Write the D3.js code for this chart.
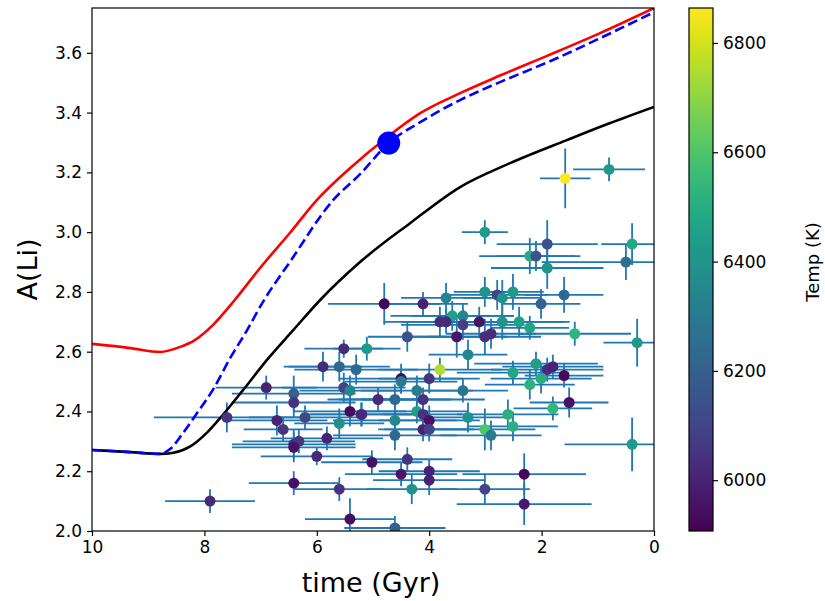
<!DOCTYPE html>
<html>
<head>
<meta charset="utf-8">
<script src="https://cdn.jsdelivr.net/npm/d3@7"></script>
<style>
  body { margin: 0; background: #fff; }
  text { font-family: "DejaVu Sans", sans-serif; }
</style>
</head>
<body>
<svg id="chart"></svg>
<script>
// stars: age (Gyr), A(Li), age err, A(Li) err, Teff
const starAge = [1.58,0.80,3.01,1.90,0.39,2.21,2.10,1.90,0.50,4.80,4.11,3.70,3.01,2.79,2.70,2.51,1.60,2.01,3.59,3.40,
  3.81,3.70,3.40,3.11,2.70,2.40,2.21,3.51,3.01,2.90,1.41,0.30,4.39,5.11,5.52,3.31,3.81,2.10,1.90,1.80,
  1.60,2.51,2.01,2.21,4.50,4.50,4.00,4.22,3.40,4.91,4.61,4.11,5.20,4.22,4.11,4.00,4.11,4.00,4.61,4.61,
  3.31,3.01,2.90,2.60,2.51,1.80,1.51,0.39,5.02,4.39,4.50,4.00,4.00,4.31,3.01,2.31,2.31,4.61,5.60,5.82,
  5.60,5.41,5.41,5.21,5.89,5.60,5.30,5.52,5.41,6.90,6.41,6.41,7.60,6.71,6.60,6.21,6.41,6.32,6.41,6.00,
  6.41,7.90]
const starALi = [3.18,3.21,3.00,2.96,2.96,2.92,2.92,2.88,2.90,2.76,2.76,2.78,2.80,2.79,2.78,2.80,2.79,2.76,2.72,2.72,
  2.70,2.70,2.69,2.70,2.70,2.70,2.68,2.65,2.65,2.66,2.66,2.63,2.65,2.61,2.61,2.59,2.54,2.56,2.54,2.55,
  2.52,2.53,2.51,2.49,2.51,2.50,2.51,2.47,2.47,2.44,2.44,2.44,2.39,2.40,2.39,2.37,2.34,2.34,2.37,2.32,
  2.38,2.34,2.32,2.39,2.35,2.41,2.43,2.29,2.23,2.24,2.19,2.20,2.17,2.14,2.14,2.19,2.09,2.01,2.36,2.31,
  2.14,2.04,2.40,2.39,2.55,2.55,2.54,2.48,2.47,2.48,2.46,2.43,2.38,2.37,2.34,2.38,2.29,2.30,2.28,2.25,
  2.16,2.10]
const starAgeErr = [0.45,0.64,0.41,0.9,0.55,0.9,0.7,1.0,1.5,1.0,0.8,0.8,0.55,0.9,0.7,0.55,0.7,0.7,1.1,0.9,
  1.0,0.8,1.1,0.9,1.1,0.9,0.7,0.9,1.0,0.8,1.0,0.6,0.7,0.6,0.7,0.7,1.1,1.1,1.0,0.9,
  0.7,1.0,0.9,0.8,1.1,1.0,0.9,1.0,0.8,0.9,1.0,1.1,1.0,0.9,0.7,0.9,0.8,0.8,1.1,1.1,
  0.7,0.9,0.9,0.9,0.8,0.7,0.7,1.2,0.9,0.8,1.0,0.9,1.0,0.8,0.8,1.1,1.2,0.9,0.8,1.0,
  0.8,0.8,1.0,0.9,0.7,0.9,1.1,1.1,0.9,0.9,1.1,1.1,1.3,0.9,0.7,1.0,1.1,1.0,1.1,1.0,
  0.8,0.8]
const starALiErr = [0.10,0.04,0.04,0.08,0.07,0.06,0.05,0.07,0.06,0.07,0.04,0.05,0.05,0.05,0.06,0.06,0.06,0.05,0.05,0.04,
  0.05,0.04,0.05,0.05,0.06,0.05,0.04,0.07,0.06,0.05,0.04,0.08,0.05,0.04,0.03,0.05,0.04,0.04,0.04,0.04,
  0.04,0.04,0.05,0.05,0.05,0.04,0.05,0.05,0.04,0.04,0.05,0.04,0.04,0.04,0.03,0.05,0.04,0.04,0.05,0.05,
  0.05,0.07,0.05,0.05,0.05,0.04,0.05,0.09,0.04,0.04,0.04,0.04,0.05,0.05,0.05,0.07,0.07,0.04,0.05,0.04,
  0.04,0.07,0.05,0.04,0.05,0.05,0.05,0.05,0.05,0.04,0.06,0.05,0.05,0.05,0.04,0.04,0.05,0.04,0.05,0.03,
  0.04,0.04]
const starTemp = [6860,6420,6430,6150,6480,6500,6150,6400,6250,5920,6000,6330,6400,6100,6400,6420,6230,6200,6450,6350,
  6020,6020,6080,5950,6400,6450,6470,5960,6030,6030,6530,6420,6150,6430,6020,6350,6750,6440,6030,6000,
  5930,6470,6500,6520,5930,6300,6050,6300,6280,6020,6230,6050,6020,6450,6050,5950,6000,6100,6350,6230,
  6400,6600,6300,6520,6520,6540,5950,6420,5950,6050,5960,6000,6000,6400,6100,5920,5970,6200,6380,6000,
  6050,5940,5930,6020,6020,6220,6230,6100,6350,6000,6200,6050,6050,6000,6050,6120,6030,6050,5950,6020,
  5950,6020]

// model tracks
const redAge = [10,9.32,8.79,8.43,8.17,7.85,7.46,7.01,6.48,6.00,5.41,4.72,4.16,3.45,2.74,1.85,0.96,0]
const redALi = [2.626,2.612,2.599,2.616,2.639,2.689,2.773,2.880,2.997,3.107,3.214,3.322,3.398,3.465,3.524,3.594,3.666,3.750]
const blueAge = [10,9.32,8.79,8.61,8.38,8.13,7.85,7.54,7.24,6.96,6.48,5.71,5.23,4.72,4.16,3.45,2.74,1.85,0.96,0]
const blueALi = [2.271,2.264,2.258,2.274,2.328,2.395,2.472,2.579,2.672,2.766,2.900,3.107,3.194,3.298,3.368,3.442,3.502,3.572,3.649,3.736]
const blackAge = [10,9.32,8.79,8.55,8.25,7.95,7.72,7.31,6.89,6.42,5.94,5.23,4.34,3.45,2.56,1.55,0.78,0]
const blackALi = [2.271,2.264,2.258,2.262,2.283,2.330,2.378,2.472,2.572,2.672,2.773,2.900,3.030,3.151,3.231,3.308,3.365,3.419]
const sunAge = [4.72]
const sunALi = [3.298]

const xTicks = [10,8,6,4,2,0]
const yTicks = [2.0,2.2,2.4,2.6,2.8,3.0,3.2,3.4,3.6]
const cTicks = [6000,6200,6400,6600,6800]
const tempRange = [5907,6864]

const w = 825, h = 601
const pLeft = 92, pRight = 654, pTop = 8, pBottom = 531

const svg = d3.select('#chart')
  .attr('width', w)
  .attr('height', h)

const xScale = d3.scaleLinear().domain([10, 0]).range([pLeft, pRight])
const yScale = d3.scaleLinear().domain([2.0, 3.75]).range([pBottom, pTop])
const color = d3.scaleSequential(d3.interpolateViridis).domain(tempRange)

const defs = svg.append('defs')
defs.append('clipPath').attr('id', 'plotclip')
  .append('rect')
  .attr('x', pLeft).attr('y', pTop)
  .attr('width', pRight - pLeft).attr('height', pBottom - pTop)

const stars = starAge.map((d, i) => ({
  t: d, a: starALi[i], te: starAgeErr[i], ae: starALiErr[i], temp: starTemp[i]
}))

const plot = svg.append('g').attr('clip-path', 'url(#plotclip)')

// error bars
const eb = plot.append('g').attr('stroke', '#1f77b4').attr('stroke-width', 1.8)
eb.selectAll('line.xerr')
  .data(stars)
  .enter()
  .append('line')
  .attr('class', 'xerr')
  .attr('x1', d => xScale(d.t + d.te))
  .attr('x2', d => xScale(d.t - d.te))
  .attr('y1', d => yScale(d.a))
  .attr('y2', d => yScale(d.a))
eb.selectAll('line.yerr')
  .data(stars)
  .enter()
  .append('line')
  .attr('class', 'yerr')
  .attr('x1', d => xScale(d.t))
  .attr('x2', d => xScale(d.t))
  .attr('y1', d => yScale(d.a - d.ae))
  .attr('y2', d => yScale(d.a + d.ae))

// tracks
const line = d3.line().x(d => xScale(d[0])).y(d => yScale(d[1])).curve(d3.curveMonotoneX)
plot.append('path')
  .datum(redAge.map((d, i) => [d, redALi[i]]))
  .attr('d', line)
  .attr('fill', 'none').attr('stroke', 'red').attr('stroke-width', 2.6)
plot.append('path')
  .datum(blackAge.map((d, i) => [d, blackALi[i]]))
  .attr('d', line)
  .attr('fill', 'none').attr('stroke', 'black').attr('stroke-width', 2.6)
plot.append('path')
  .datum(blueAge.map((d, i) => [d, blueALi[i]]))
  .attr('d', line)
  .attr('fill', 'none').attr('stroke', 'blue').attr('stroke-width', 2.6)
  .attr('stroke-dasharray', '10,4.5')

// stars
plot.selectAll('circle.star')
  .data(stars)
  .enter()
  .append('circle')
  .attr('class', 'star')
  .attr('cx', d => xScale(d.t))
  .attr('cy', d => yScale(d.a))
  .attr('r', 5.5)
  .attr('fill', d => color(d.temp))

// sun marker
plot.selectAll('circle.sun')
  .data(sunAge)
  .enter()
  .append('circle')
  .attr('class', 'sun')
  .attr('cx', d => xScale(d))
  .attr('cy', (d, i) => yScale(sunALi[i]))
  .attr('r', 11.5)
  .attr('fill', 'blue')

// axes
const xAxis = d3.axisBottom(xScale).tickValues(xTicks).tickFormat(d3.format('d')).tickSize(5).tickPadding(5)
const yAxis = d3.axisLeft(yScale).tickValues(yTicks).tickFormat(d3.format('.1f')).tickSize(5).tickPadding(5)
const gx = svg.append('g').attr('transform', `translate(0, ${pBottom})`).call(xAxis)
const gy = svg.append('g').attr('transform', `translate(${pLeft}, 0)`).call(yAxis)
;[gx, gy].forEach(g => {
  g.select('.domain').remove()
  g.selectAll('line').attr('stroke', 'black').attr('stroke-width', 1.2)
  g.selectAll('text').attr('font-size', 17).attr('fill', 'black')
})

svg.append('rect')
  .attr('x', pLeft).attr('y', pTop)
  .attr('width', pRight - pLeft).attr('height', pBottom - pTop)
  .attr('fill', 'none').attr('stroke', 'black').attr('stroke-width', 1.2)

svg.append('text')
  .attr('x', 371).attr('y', 592)
  .attr('text-anchor', 'middle').attr('font-size', 27)
  .text('time (Gyr)')
svg.append('text')
  .attr('transform', `translate(37, ${(pTop + pBottom) / 2}) rotate(-90)`)
  .attr('text-anchor', 'middle').attr('font-size', 27)
  .text('A(Li)')

// colorbar
const cbX = 689, cbW = 24
const cScale = d3.scaleLinear().domain(tempRange).range([pBottom, pTop])
const grad = defs.append('linearGradient')
  .attr('id', 'viridis').attr('x1', 0).attr('y1', 1).attr('x2', 0).attr('y2', 0)
d3.range(0, 1.0001, 0.05).forEach(s => {
  grad.append('stop').attr('offset', s).attr('stop-color', d3.interpolateViridis(s))
})
svg.append('rect')
  .attr('x', cbX).attr('y', pTop)
  .attr('width', cbW).attr('height', pBottom - pTop)
  .attr('fill', 'url(#viridis)')
  .attr('stroke', 'black').attr('stroke-width', 1.2)
const cAxis = d3.axisRight(cScale).tickValues(cTicks).tickFormat(d3.format('d')).tickSize(5).tickPadding(5)
const gc = svg.append('g').attr('transform', `translate(${cbX + cbW}, 0)`).call(cAxis)
gc.select('.domain').remove()
gc.selectAll('line').attr('stroke', 'black').attr('stroke-width', 1.2)
gc.selectAll('text').attr('font-size', 17).attr('fill', 'black')

svg.append('text')
  .attr('transform', `translate(819, 262) rotate(-90)`)
  .attr('text-anchor', 'middle').attr('font-size', 18)
  .text('Temp (K)')
</script>
</body>
</html>
